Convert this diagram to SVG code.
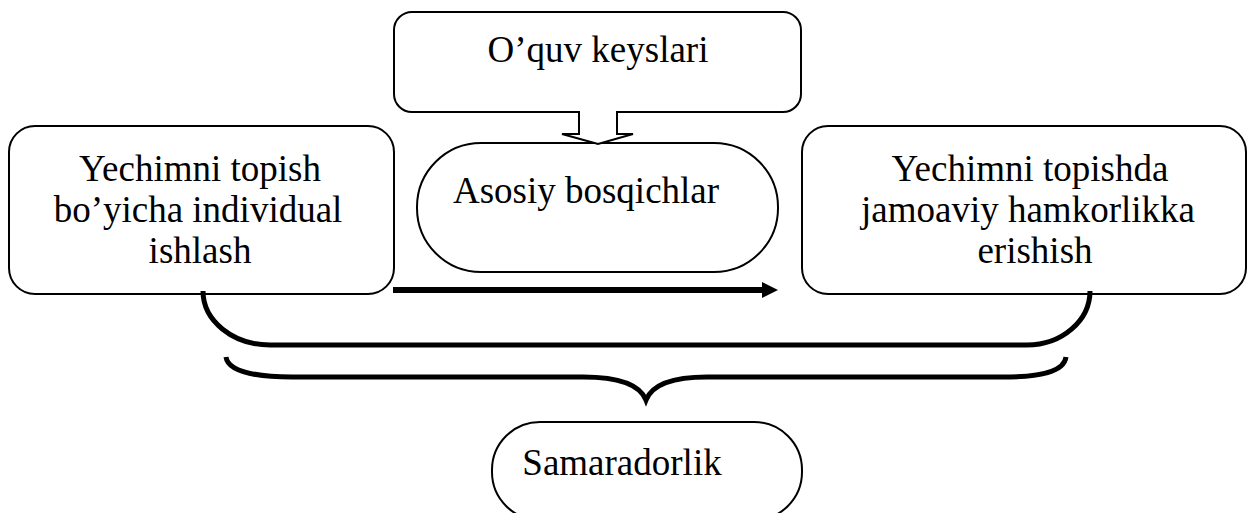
<svg xmlns="http://www.w3.org/2000/svg" width="1248" height="513" viewBox="0 0 1248 513">
<style>
.box{fill:#fff;stroke:#000;stroke-width:2}
.t{font-family:"Liberation Serif","Times New Roman",serif;font-size:37px;fill:#000;text-anchor:middle}
.thick{fill:none;stroke:#000;stroke-width:5;stroke-linecap:butt}
</style>
<rect width="1248" height="513" fill="#fff"/>
<g id="n-keyslari">
<rect class="box" x="394" y="12" width="407" height="100" rx="18"/>
<text class="t" x="598" y="62">O’quv keyslari</text>
</g>
<g id="n-individual">
<rect class="box" x="9" y="126" width="385" height="168" rx="26"/>
<text class="t" x="200" y="181">Yechimni topish</text>
<text class="t" x="198" y="222">bo’yicha individual</text>
<text class="t" x="200" y="263">ishlash</text>
</g>
<g id="n-bosqichlar">
<rect class="box" x="417" y="143" width="361" height="129" rx="64" ry="64"/>
<text class="t" x="586" y="203">Asosiy bosqichlar</text>
</g>
<g id="n-jamoaviy">
<rect class="box" x="802" y="126" width="444" height="168" rx="26"/>
<text class="t" x="1030" y="181">Yechimni topishda</text>
<text class="t" x="1028" y="222">jamoaviy hamkorlikka</text>
<text class="t" x="1035" y="263">erishish</text>
</g>
<g id="n-samaradorlik">
<rect class="box" x="492" y="422" width="310" height="98" rx="48" ry="48"/>
<text class="t" x="622" y="475">Samaradorlik</text>
</g>
<g id="connectors">
<path d="M579 111 V134 H562 L598 144 L633 134 H617 V111" fill="#fff" stroke="#000" stroke-width="2" stroke-linejoin="miter"/>
<line x1="393" y1="290" x2="764" y2="290" stroke="#000" stroke-width="6"/>
<polygon points="762,282 778,290 762,298" fill="#000"/>
<path class="thick" d="M203 291 A67 54 0 0 0 270 345 L1027 345 A63 54 0 0 0 1090 291"/>
<path class="thick" d="M226 357 C228 372 258 377 292 377 L583 377 C620 377 640 385 646 400 C652 385 672 377 707 377 L1003 377 C1040 377 1064 372 1066 357"/>
</g>
</svg>
